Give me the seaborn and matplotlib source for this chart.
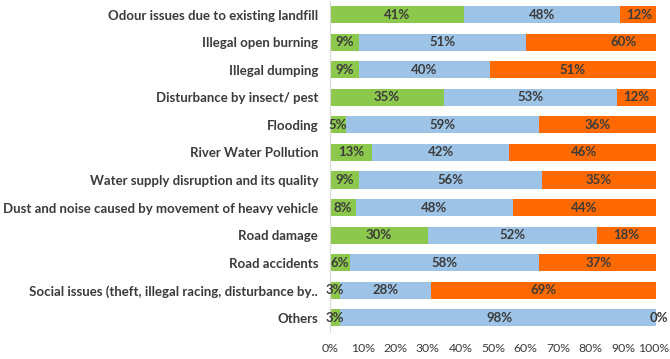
import numpy as np
import pandas as pd
import matplotlib
matplotlib.use("Agg")
import matplotlib.pyplot as plt
import matplotlib.transforms as mtransforms
import seaborn as sns

categories = [
    "Odour issues due to existing landfill",
    "Illegal open burning",
    "Illegal dumping",
    "Disturbance by insect/ pest",
    "Flooding",
    "River Water Pollution",
    "Water supply disruption and its quality",
    "Dust and noise caused by movement of heavy vehicle",
    "Road damage",
    "Road accidents",
    "Social issues (theft, illegal racing, disturbance by..",
    "Others",
]
green_vals = [41, 9, 9, 35, 5, 13, 9, 8, 30, 6, 3, 3]
blue_vals = [48, 51, 40, 53, 59, 42, 56, 48, 52, 58, 28, 98]
orange_vals = [12, 60, 51, 12, 36, 46, 35, 44, 18, 37, 69, 0]
x_ticks = [0, 10, 20, 30, 40, 50, 60, 70, 80, 90, 100]

GREEN = "#8cc84b"
BLUE = "#9dc3e6"
ORANGE = "#ff6a00"
TEXT = "#3b3b3b"

df = pd.DataFrame({
    "category": categories,
    "green": green_vals,
    "blue": blue_vals,
    "orange": orange_vals,
})
df["c1"] = df["green"]
df["c2"] = df["green"] + df["blue"]
df["c3"] = df["c2"] + df["orange"]

sns.set_style("white")
plt.rcParams["font.family"] = ["Lato", "DejaVu Sans"]

fig = plt.figure(figsize=(6.7, 3.59), dpi=100)
ax = fig.add_axes([0.4925, 0.076, 0.4865, 0.922])

# stacked bars: draw cumulative totals from the back to the front
for col, color in [("c3", ORANGE), ("c2", BLUE), ("c1", GREEN)]:
    sns.barplot(data=df, y="category", x=col, color=color, orient="h",
                width=0.62, ax=ax, saturation=1, linewidth=0)

ax.set_xlim(0, 100)
ax.set_xticks(x_ticks)
ax.set_xticklabels([f"{t}%" for t in x_ticks])
ax.set_xlabel("")
ax.set_ylabel("")

# value labels centred in each segment
for i, row in df.iterrows():
    starts = [0, row["c1"], row["c2"]]
    for start, val in zip(starts, [row["green"], row["blue"], row["orange"]]):
        ax.text(start + val / 2, i, f"{val}%", ha="center", va="center",
                fontsize=9.5, fontweight="bold", color=TEXT, clip_on=False)

for side in ["top", "right", "bottom"]:
    ax.spines[side].set_visible(False)
ax.spines["left"].set_color("#d9d9d9")
ax.spines["left"].set_linewidth(0.8)

ax.tick_params(axis="y", length=0, pad=8.5, labelsize=9.5, labelcolor=TEXT)
ax.tick_params(axis="x", length=0, pad=8, labelsize=8.8, labelcolor=TEXT)
for lbl in ax.get_yticklabels():
    lbl.set_fontweight("bold")
# nudge the last tick label a little left so it stays on the canvas
last = ax.get_xticklabels()[-1]
last.set_transform(last.get_transform() +
                   mtransforms.ScaledTranslation(-2 / 72, 0, fig.dpi_scale_trans))

fig.savefig("out.png", dpi=100)
